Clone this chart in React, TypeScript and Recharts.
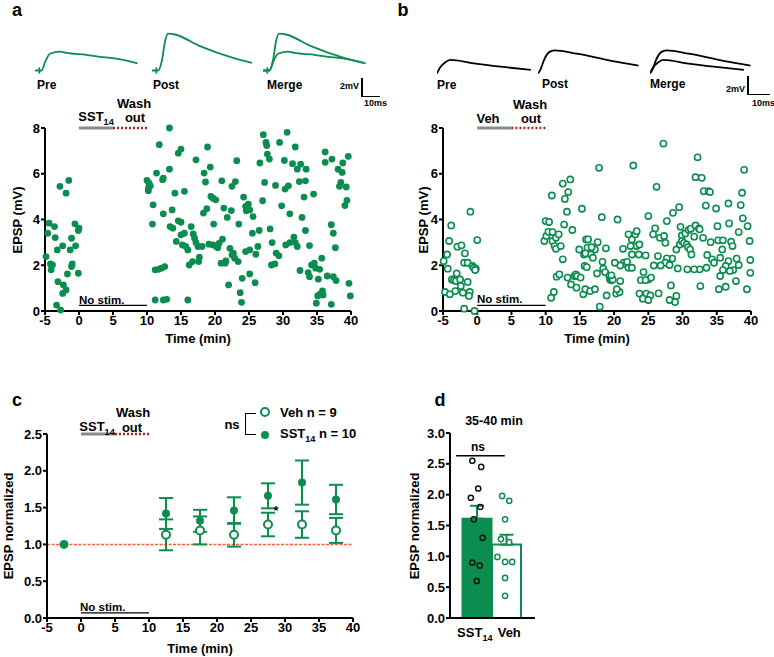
import React from "react";
import {
  ScatterChart,
  Scatter,
  ComposedChart,
  LineChart,
  Line,
  Bar,
  Cell,
  XAxis,
  YAxis,
  ErrorBar,
  ReferenceLine,
} from "recharts";

const GREEN = "#0b8d4f";
const FONT = '"Liberation Sans", Arial, Helvetica, sans-serif';

const timeTicks = [-5, 0, 5, 10, 15, 20, 25, 30, 35, 40];
const epspTicks = [0, 2, 4, 6, 8];
const normTicks = [0, 0.5, 1, 1.5, 2, 2.5];
const barTicks = [0, 0.5, 1, 1.5, 2, 2.5, 3];

// a: SST14 cell, EPSP per sweep (min, mV)
const sstSweeps: [number, number][] = [
  [-4.85, 2.38], [-4.6, 3.4], [-4.4, 3.84], [-3.6, 3.69], [-3.5, 3.21], [-3.2, 2.67], [-2.4, 2.85], [-2.8, 5.45],
  [-1.5, 5.71], [-1.9, 5.15], [-4.2, 2.06], [-3.9, 2.01], [-4.1, 1.8], [-3.1, 1.28], [-2.3, 1.14], [-2.4, 0.77],
  [-1.9, 0.92], [-3.3, 0.26], [-2.7, 0.04], [-1.7, 1.62], [-1.1, 1.94], [-1.0, 2.06], [-1.1, 3.18], [-1.3, 2.67],
  [-0.5, 2.85], [-0.6, 3.81], [-0.1, 3.52], [0, 3.62], [-0.1, 1.65],
  [10.0, 5.71], [10.3, 5.59], [10.2, 5.37], [10.5, 5.47], [10.2, 5.26], [10.9, 4.64], [10.8, 3.8], [11.2, 1.8],
  [11.7, 1.82], [12.1, 1.87], [12.6, 1.94], [11.2, 0.48], [12.4, 0.48], [12.9, 0.51], [11.4, 6.03], [11.8, 7.27],
  [12.3, 5.74], [12.4, 5.81], [13.3, 8.0], [13.3, 6.2], [12.4, 4.25], [13.7, 4.42], [13.4, 3.69], [13.8, 3.62],
  [14.1, 5.15], [14.3, 3.04], [14.6, 6.9], [15.0, 7.08], [14.6, 3.94], [15.0, 3.88], [15.5, 5.23], [15.0, 3.33],
  [15.5, 3.4], [15.2, 2.89], [15.7, 2.82], [16.2, 2.01], [16.7, 2.16], [16.0, 0.48], [16.5, 3.69], [16.0, 2.67],
  [17.2, 6.61], [18.4, 6.03], [19.3, 6.29], [18.9, 7.17], [18.6, 5.64], [19.4, 5.01], [19.7, 4.93], [20.1, 4.86],
  [18.8, 4.47], [18.3, 4.28], [19.8, 3.8], [16.8, 3.37], [17.0, 3.18], [17.2, 2.99], [17.5, 2.82], [18.1, 2.82],
  [17.7, 2.35], [17.6, 2.16], [19.1, 2.92], [19.7, 2.89], [20.2, 2.82], [20.6, 2.96], [21.1, 3.14], [20.4, 2.77],
  [20.9, 2.09], [21.5, 2.09], [21.6, 2.19], [22.0, 1.14], [22.2, 2.74], [22.5, 2.45], [22.9, 2.31], [23.4, 2.16],
  [22.7, 2.53], [21.8, 4.09], [21.3, 4.5], [22.4, 4.39], [21.0, 5.69], [22.5, 5.45], [23.0, 5.66], [23.2, 6.57],
  [23.5, 3.8], [24.0, 1.43], [23.7, 0.8], [23.9, 0.38], [24.2, 4.98], [24.5, 4.57], [24.9, 4.67], [24.6, 4.38],
  [25.1, 4.42], [25.6, 4.13], [25.1, 1.62], [25.9, 1.24], [24.5, 2.6], [25.1, 2.67], [25.5, 3.4], [26.0, 2.48],
  [26.3, 2.82], [26.5, 3.52], [26.6, 6.47], [27.0, 4.82], [27.3, 5.62], [27.1, 7.71], [27.5, 7.37], [27.6, 7.23],
  [27.7, 6.86], [28.0, 6.64], [28.1, 3.59], [28.4, 2.99], [28.3, 2.01], [28.8, 2.06], [29.0, 2.53], [29.4, 2.41],
  [28.9, 5.49], [29.5, 7.37], [29.8, 4.6], [30.2, 6.58], [30.6, 7.81], [30.3, 5.33], [30.8, 5.47], [31.0, 4.25],
  [30.4, 2.89], [31.0, 2.99], [31.4, 6.44], [31.8, 7.17], [32.1, 6.2], [32.6, 6.42], [33.4, 6.2], [32.4, 5.66],
  [33.3, 5.69], [33.1, 4.98], [31.6, 3.23], [31.8, 2.99], [32.1, 2.82], [32.8, 4.09], [33.3, 3.52], [33.9, 2.86],
  [34.5, 5.11], [32.5, 1.77], [33.7, 1.68], [33.9, 1.5], [34.2, 2.01], [34.6, 2.09], [34.8, 1.87], [35.2, 1.39],
  [35.7, 2.31], [35.4, 1.82], [36.5, 1.53], [37.4, 1.5], [37.8, 1.33], [35.1, 0.66], [35.4, 0.73], [35.8, 0.88],
  [35.9, 0.7], [34.9, 0.34], [37.1, 0.29], [36.2, 6.95], [36.2, 6.5], [37.2, 6.64], [37.1, 3.77], [37.4, 3.4],
  [37.7, 2.77], [38.1, 6.2], [38.7, 6.06], [38.8, 6.47], [39.6, 6.76], [38.5, 5.62], [38.3, 5.45], [39.3, 5.42],
  [39.4, 4.83], [39.1, 4.61], [39.7, 1.21], [39.9, 0.66],
];

// b: vehicle cell
const vehSweeps: [number, number][] = [
  [-4.9, 2.18], [-4.4, 2.47], [-4.3, 1.85], [-4.7, 0.83], [-4.0, 0.73], [-4.1, 3.06], [-3.8, 3.74], [-3.7, 1.38],
  [-3.4, 1.34], [-3.1, 1.31], [-3.0, 1.64], [-3.2, 0.87], [-2.9, 2.81], [-2.3, 2.87], [-2.5, 1.38], [-2.4, 1.09],
  [-2.1, 0.8], [-1.9, 0.1], [-1.8, 2.52], [-1.9, 2.11], [-1.4, 2.11], [-1.4, 1.27], [-1.1, 0.83], [-1.2, 0.66],
  [-1.0, 4.34], [-0.7, 1.97], [-0.5, 1.89], [-0.2, 1.85], [-0.3, 1.79], [0.0, 3.1], [-0.4, 0.0],
  [9.8, 3.06], [10.0, 3.93], [10.5, 3.89], [10.1, 3.28], [10.4, 3.46], [10.9, 5.05], [11.0, 3.45], [11.0, 3.06],
  [11.3, 2.84], [11.5, 3.2], [11.5, 2.72], [10.8, 0.58], [11.2, 0.83], [11.9, 3.35], [12.2, 2.84], [11.6, 1.5],
  [12.0, 1.6], [12.5, 2.26], [12.5, 5.57], [12.7, 3.78], [12.8, 4.9], [13.1, 4.34], [13.3, 5.2], [13.6, 5.75],
  [13.2, 1.46], [13.7, 1.16], [13.9, 3.54], [14.2, 1.53], [14.4, 1.6], [14.6, 1.53], [14.5, 1.02], [15.1, 1.46],
  [14.9, 2.69], [15.3, 4.47], [15.5, 0.73], [15.8, 0.95], [15.7, 1.97], [15.6, 2.47], [15.9, 3.13], [16.1, 2.77],
  [17.9, 0.19], [17.8, 6.26], [22.8, 6.36], [27.2, 7.32], [32.2, 6.72], [39.0, 6.17], [26.2, 5.43], [31.9, 5.85],
  [32.8, 5.82], [33.1, 5.24], [33.8, 5.24], [34.0, 5.2], [33.4, 4.61], [34.9, 4.48], [36.7, 4.7], [38.5, 4.63],
  [38.7, 5.17], [38.8, 4.05], [39.5, 3.71], [29.5, 4.54], [28.6, 4.29], [27.7, 3.93], [25.0, 4.15], [20.5, 4.0],
  [18.2, 4.1], [26.0, 3.61], [25.7, 3.35], [26.7, 3.2], [27.3, 3.28], [27.5, 2.98], [29.7, 3.68], [29.9, 3.3],
  [30.4, 3.39], [30.9, 3.54], [31.2, 3.6], [31.9, 3.74], [32.4, 3.61], [32.5, 3.57], [31.7, 3.25], [33.0, 3.2],
  [35.1, 3.71], [36.8, 3.83], [38.2, 3.45], [39.8, 3.06], [34.1, 3.01], [35.2, 3.09], [35.9, 3.09], [37.1, 3.03],
  [37.3, 2.84], [35.8, 2.69], [33.6, 2.45], [34.3, 2.26], [34.6, 2.11], [35.5, 2.33], [36.7, 2.18], [37.9, 2.29],
  [39.9, 2.23], [38.2, 2.01], [37.4, 1.79], [36.9, 1.75], [36.3, 1.97], [35.9, 1.79], [35.5, 1.53], [39.9, 1.67],
  [33.5, 1.89], [32.5, 1.82], [31.7, 1.82], [30.7, 1.82], [29.3, 1.86], [29.1, 2.69], [29.6, 2.91], [29.9, 3.06],
  [30.2, 2.98], [30.6, 2.91], [30.8, 2.79], [31.1, 2.69], [31.3, 2.47], [28.5, 2.29], [27.7, 2.3], [27.5, 2.11],
  [28.1, 2.01], [26.8, 1.99], [25.8, 1.99], [26.4, 2.4], [24.6, 2.43], [25.0, 1.38], [24.3, 1.7], [23.9, 1.35],
  [24.6, 1.35], [25.4, 1.46], [23.7, 0.76], [24.7, 0.76], [25.3, 0.68], [24.2, 0.54], [25.0, 0.48], [26.5, 0.77],
  [28.3, 1.12], [29.1, 0.66], [28.1, 0.48], [28.9, 0.39], [32.6, 1.09], [35.3, 0.95], [36.3, 1.06], [37.8, 1.31],
  [39.4, 0.95], [23.6, 2.47], [22.6, 2.47], [23.3, 2.84], [23.7, 2.91], [22.4, 2.84], [22.6, 3.13], [23.1, 3.35],
  [23.3, 3.49], [22.1, 3.35], [21.3, 2.72], [21.4, 2.11], [21.8, 2.04], [22.1, 1.89], [22.6, 1.89], [21.9, 2.15],
  [20.9, 1.99], [20.1, 2.11], [20.9, 1.31], [20.3, 0.76], [20.8, 0.83], [18.9, 0.68], [18.8, 2.74], [18.3, 2.15],
  [18.4, 1.85], [18.7, 1.7], [17.5, 1.64], [19.3, 1.53], [19.4, 1.38], [19.6, 1.34], [19.8, 1.38], [19.6, 1.56],
  [20.4, 0.95], [17.6, 3.01], [17.2, 2.69], [16.7, 2.79], [16.2, 3.13], [16.6, 2.47], [16.9, 2.33], [15.8, 2.52],
  [16.0, 1.92], [16.5, 0.87], [17.2, 0.95],
];

// example EPSP traces (ms, mV)
const aPre: [number, number][] = [
  [0, 0], [2, 0], [3.7, 0], [5.6, 0.92], [8.3, 1.86], [13.9, 2.1], [17.6, 1.95], [28.7, 1.74], [36, 1.52],
  [43.3, 1.37], [57, 0.8],
];
const aPost: [number, number][] = [
  [0, 0], [2, 0], [3.3, 0], [5.6, 1.2], [7.2, 3.2], [8.9, 4.1], [12.8, 4.0], [26.7, 2.7], [45, 1.4], [55.6, 0.86],
];
const bPre: [number, number][] = [
  [0, 0], [1.4, 0.67], [3.6, 1.22], [5.8, 1.49], [15.9, 1.11], [27.5, 0.74], [40.6, 0.38],
];
const bPost: [number, number][] = [
  [0, 0], [1, 0.38], [2.5, 1.41], [4.8, 2.33], [7.2, 2.52], [16.8, 2.16], [29.7, 1.49], [43.5, 0.86],
];
const artifact: [number, number][] = [[2.4, -0.35], [2.4, 0.35]];

// c: normalized EPSP, 5-min bins
const binTimes = [12.5, 17.5, 22.5, 27.5, 32.5, 37.5];
const sstMean = [1.42, 1.32, 1.46, 1.66, 1.84, 1.61];
const sstSem = [0.21, 0.15, 0.18, 0.17, 0.3, 0.2];
const vehMean = [1.13, 1.19, 1.13, 1.27, 1.27, 1.19];
const vehSem = [0.21, 0.19, 0.16, 0.16, 0.18, 0.17];
const baselineTime = -2.5;

// d: 35-40 min
const groups = ["SST14", "Veh"];
const groupMean = [1.61, 1.19];
const groupSem = [0.21, 0.16];
const sstCells = [2.55, 2.45, 2.1, 1.95, 1.8, 1.6, 1.3, 0.9, 0.85, 0.6];
const sstJitter = [-0.15, 0.15, 0.05, -0.2, 0.12, -0.1, 0.2, -0.15, 0.1, 0];
const vehCells = [1.98, 1.9, 1.6, 1.28, 1.23, 0.99, 0.91, 0.91, 0.65, 0.36];
const vehJitter = [-0.14, 0.1, -0.04, -0.18, 0.1, -0.3, -0.04, 0.2, -0.04, -0.04];

const tickStyle = { fill: "#000", fontSize: 13, fontWeight: 700, fontFamily: FONT };
const axisLine = { stroke: "#000", strokeWidth: 2 };

function T({ x, y, size = 13, anchor = "middle", rotate = false, children }: any) {
  const tx = anchor === "middle" ? "-50%" : anchor === "end" ? "-100%" : "0";
  return (
    <div
      style={{
        position: "absolute",
        left: x,
        top: y,
        transform: `translate(${tx}, -50%)${rotate ? " rotate(-90deg)" : ""}`,
        fontSize: size,
        fontWeight: 700,
        fontFamily: FONT,
        lineHeight: 1,
        whiteSpace: "nowrap",
        color: "#000",
      }}
    >
      {children}
    </div>
  );
}

const Sub = ({ children }: any) => (
  <span style={{ fontSize: "0.7em", position: "relative", top: 4 }}>{children}</span>
);

const filledDot = (p: any) => <circle cx={p.cx} cy={p.cy} r={3.4} fill={GREEN} />;
const openDot = (p: any) => (
  <circle cx={p.cx} cy={p.cy} r={3.1} fill="#fff" stroke={GREEN} strokeWidth={1.6} />
);

function SweepPanel({ points, left, open }: { points: [number, number][]; left: number; open?: boolean }) {
  const data = points.map(([t, v]) => ({ t, v }));
  return (
    <div style={{ position: "absolute", left, top: 110 }}>
      <ScatterChart width={370} height={240} margin={{ top: 18, right: 19, bottom: 14, left: open ? 13 : 15 }}>
        <XAxis
          dataKey="t"
          type="number"
          domain={[-5, 40]}
          ticks={timeTicks}
          height={25}
          tick={tickStyle}
          tickSize={4}
          tickMargin={1}
          axisLine={axisLine}
          tickLine={axisLine}
        />
        <YAxis
          dataKey="v"
          type="number"
          domain={[0, 8]}
          ticks={epspTicks}
          width={30}
          tick={tickStyle}
          tickSize={4}
          tickMargin={1}
          axisLine={axisLine}
          tickLine={axisLine}
        />
        <ReferenceLine segment={[{ x: 0, y: 8 }, { x: 5, y: 8 }]} stroke="#8a8a8a" strokeWidth={3} />
        <ReferenceLine
          segment={[{ x: 5, y: 8 }, { x: 10, y: 8 }]}
          stroke="#b0231c"
          strokeWidth={2.5}
          strokeDasharray="2 2"
        />
        <ReferenceLine segment={[{ x: 0, y: 0.25 }, { x: 10, y: 0.25 }]} stroke="#000" strokeWidth={1.2} />
        <Scatter data={data} dataKey="v" shape={open ? openDot : filledDot} isAnimationActive={false} />
      </ScatterChart>
    </div>
  );
}

function Trace({ left, top, width, height, xMax, yMin, yMax, series, color }: any) {
  return (
    <div style={{ position: "absolute", left, top }}>
      <LineChart width={width} height={height} margin={{ top: 0, right: 0, bottom: 0, left: 0 }}>
        <XAxis type="number" dataKey="t" domain={[0, xMax]} hide />
        <YAxis type="number" domain={[yMin, yMax]} hide />
        {series.map((s: [number, number][], i: number) => (
          <Line
            key={i}
            data={s.map(([t, v]) => ({ t, v }))}
            dataKey="v"
            type={s.length === 2 ? "linear" : "monotone"}
            stroke={color}
            strokeWidth={1.8}
            dot={false}
            isAnimationActive={false}
          />
        ))}
      </LineChart>
    </div>
  );
}

const ScaleBar = ({ x, y, h, w }: any) => (
  <>
    <div style={{ position: "absolute", left: x, top: y, width: 1.5, height: h, background: "#000" }} />
    <div style={{ position: "absolute", left: x, top: y + h - 1.5, width: w, height: 1.5, background: "#000" }} />
  </>
);

function PanelC() {
  const sst = binTimes.map((t, i) => ({ t, m: sstMean[i], e: sstSem[i] }));
  const veh = binTimes.map((t, i) => ({ t, m: vehMean[i], e: vehSem[i] }));
  const base = [{ t: baselineTime, m: 1 }];
  return (
    <div style={{ position: "absolute", left: 0, top: 400 }}>
      <ComposedChart width={380} height={250} margin={{ top: 34, right: 27, bottom: 10, left: 17 }}>
        <XAxis
          dataKey="t"
          type="number"
          domain={[-5, 40]}
          ticks={timeTicks}
          height={22}
          tick={tickStyle}
          tickSize={4}
          tickMargin={1}
          axisLine={axisLine}
          tickLine={axisLine}
        />
        <YAxis
          type="number"
          domain={[0, 2.5]}
          ticks={normTicks}
          tickFormatter={(v: number) => v.toFixed(1)}
          width={30}
          tick={tickStyle}
          tickSize={4}
          tickMargin={1}
          axisLine={axisLine}
          tickLine={axisLine}
        />
        <ReferenceLine y={1} stroke="#ff5a3c" strokeWidth={1.5} strokeDasharray="3 1.5" />
        <ReferenceLine segment={[{ x: 0, y: 2.5 }, { x: 5, y: 2.5 }]} stroke="#8a8a8a" strokeWidth={3} />
        <ReferenceLine
          segment={[{ x: 5, y: 2.5 }, { x: 10, y: 2.5 }]}
          stroke="#b0231c"
          strokeWidth={2.5}
          strokeDasharray="2 2"
        />
        <ReferenceLine segment={[{ x: 0, y: 0.07 }, { x: 10, y: 0.07 }]} stroke="#000" strokeWidth={1.2} />
        <Scatter data={veh} dataKey="m" isAnimationActive={false}
          shape={(p: any) => <circle cx={p.cx} cy={p.cy} r={4} fill="#fff" stroke={GREEN} strokeWidth={2} />}>
          <ErrorBar dataKey="e" direction="y" width={7} stroke={GREEN} strokeWidth={2} />
        </Scatter>
        <Scatter data={sst} dataKey="m" isAnimationActive={false}
          shape={(p: any) => <circle cx={p.cx} cy={p.cy} r={4} fill={GREEN} />}>
          <ErrorBar dataKey="e" direction="y" width={7} stroke={GREEN} strokeWidth={2} />
        </Scatter>
        <Scatter data={base} dataKey="m" isAnimationActive={false}
          shape={(p: any) => <circle cx={p.cx} cy={p.cy} r={4.5} fill={GREEN} />} />
      </ComposedChart>
    </div>
  );
}

const GroupTick = ({ x, y, payload }: any) => (
  <text
    x={payload.value === "SST14" ? x - 2 : x + 3}
    y={y + 11}
    textAnchor="middle"
    fontSize={13}
    fontWeight={700}
    fontFamily={FONT}
    fill="#000"
  >
    {payload.value === "SST14" ? (
      <>
        SST<tspan fontSize={9} dy={4}>14</tspan>
      </>
    ) : (
      payload.value
    )}
  </text>
);

function PanelD() {
  const data = groups.map((g, i) => ({ g, m: groupMean[i], e: [0, groupSem[i]] }));
  const sstDots = sstCells.map((v, i) => ({ x: sstJitter[i], v }));
  const vehDots = vehCells.map((v, i) => ({ x: 1 + vehJitter[i], v }));
  const pad = { left: 12, right: 14 };
  return (
    <div style={{ position: "absolute", left: 400, top: 400 }}>
      <ComposedChart width={150} height={250} data={data} margin={{ top: 33, right: 15, bottom: 12, left: 22 }}
        barCategoryGap={0.5}>
        <XAxis xAxisId="cat" dataKey="g" type="category" padding={pad} height={20} tick={<GroupTick />}
          tickLine={false} axisLine={axisLine} interval={0} />
        <XAxis xAxisId="num" dataKey="x" type="number" domain={[-0.5, 1.5]} padding={pad} hide />
        <YAxis
          type="number"
          domain={[0, 3]}
          ticks={barTicks}
          tickFormatter={(v: number) => v.toFixed(1)}
          width={28}
          tick={tickStyle}
          tickSize={4}
          tickMargin={1}
          axisLine={axisLine}
          tickLine={axisLine}
        />
        <Bar xAxisId="cat" dataKey="m" isAnimationActive={false} strokeWidth={2}>
          <Cell fill={GREEN} stroke={GREEN} />
          <Cell fill="#fff" stroke={GREEN} />
          <ErrorBar dataKey="e" direction="y" width={7} stroke={GREEN} strokeWidth={2} />
        </Bar>
        <Scatter xAxisId="num" data={sstDots} dataKey="v" isAnimationActive={false}
          shape={(p: any) => <circle cx={p.cx} cy={p.cy} r={2.6} fill="none" stroke="#111" strokeWidth={1.5} />} />
        <Scatter xAxisId="num" data={vehDots} dataKey="v" isAnimationActive={false}
          shape={(p: any) => <circle cx={p.cx} cy={p.cy} r={2.6} fill="#fff" stroke={GREEN} strokeWidth={1.5} />} />
        <ReferenceLine xAxisId="num" segment={[{ x: -0.7, y: 2.63 }, { x: 0.95, y: 2.63 }]} stroke="#000"
          strokeWidth={1.5} ifOverflow="visible" />
      </ComposedChart>
    </div>
  );
}

export default function App() {
  return (
    <div style={{ position: "absolute", left: 0, top: 0, width: 774, height: 657, background: "#fff", overflow: "hidden" }}>
      {/* panel a */}
      <T x={17} y={10} size={18}>a</T>
      <Trace left={35} top={30} width={108} height={45} xMax={60} yMin={-0.5} yMax={4.5} series={[aPre, artifact]} color={GREEN} />
      <Trace left={152} top={30} width={108} height={45} xMax={60} yMin={-0.5} yMax={4.5} series={[aPost, artifact]} color={GREEN} />
      <Trace left={263} top={30} width={108} height={45} xMax={60} yMin={-0.5} yMax={4.5} series={[aPre, aPost, artifact]} color={GREEN} />
      <T x={37} y={85} size={12} anchor="start">Pre</T>
      <T x={153} y={85} size={12} anchor="start">Post</T>
      <T x={267} y={85} size={12} anchor="start">Merge</T>
      <ScaleBar x={361} y={78} h={19} w={19} />
      <T x={359} y={86} size={9} anchor="end">2mV</T>
      <T x={364} y={103} size={9} anchor="start">10ms</T>
      <T x={134} y={103}>Wash</T>
      <T x={96} y={117}>SST<Sub>14</Sub></T>
      <T x={135} y={117}>out</T>
      <T x={79} y={301} size={11.5} anchor="start">No stim.</T>
      <T x={17} y={220} rotate>EPSP (mV)</T>
      <T x={198} y={338}>Time (min)</T>
      <SweepPanel points={sstSweeps} left={0} />

      {/* panel b */}
      <T x={403} y={10} size={18}>b</T>
      <Trace left={437} top={46} width={104} height={32} xMax={45} yMin={-0.5} yMax={3} series={[bPre]} color="#000" />
      <Trace left={538} top={46} width={104} height={32} xMax={45} yMin={-0.5} yMax={3} series={[bPost]} color="#000" />
      <Trace left={650} top={46} width={104} height={32} xMax={45} yMin={-0.5} yMax={3} series={[bPre, bPost]} color="#000" />
      <T x={437} y={85} size={12} anchor="start">Pre</T>
      <T x={542} y={84} size={12} anchor="start">Post</T>
      <T x={650} y={84} size={12} anchor="start">Merge</T>
      <ScaleBar x={747} y={76} h={19} w={23} />
      <T x={745} y={89} size={9} anchor="end">2mV</T>
      <T x={752} y={103} size={9} anchor="start">10ms</T>
      <T x={530} y={104}>Wash</T>
      <T x={488} y={118}>Veh</T>
      <T x={531} y={118}>out</T>
      <T x={477} y={300} size={11.5} anchor="start">No stim.</T>
      <T x={423} y={220} rotate>EPSP (mV)</T>
      <T x={597} y={338}>Time (min)</T>
      <SweepPanel points={vehSweeps} left={400} open />

      {/* panel c */}
      <T x={17} y={400} size={18}>c</T>
      <PanelC />
      <T x={133} y={412}>Wash</T>
      <T x={97} y={427}>SST<Sub>14</Sub></T>
      <T x={132} y={427}>out</T>
      <T x={80} y={608} size={11.5} anchor="start">No stim.</T>
      <T x={8} y={526} rotate>EPSP normalized</T>
      <T x={200} y={648}>Time (min)</T>
      <T x={276} y={511} size={12}>*</T>
      <T x={232} y={424}>ns</T>
      <div style={{ position: "absolute", left: 245, top: 413, width: 10, height: 20, borderLeft: "1.5px solid #000", borderTop: "1.5px solid #000", borderBottom: "1.5px solid #000" }} />
      <svg style={{ position: "absolute", left: 258, top: 405 }} width={16} height={38}>
        <circle cx={7} cy={7} r={4} fill="#fff" stroke={GREEN} strokeWidth={2} />
        <circle cx={7} cy={30} r={4} fill={GREEN} />
      </svg>
      <T x={280} y={412} anchor="start">Veh n = 9</T>
      <T x={280} y={434} anchor="start">SST<Sub>14</Sub> n = 10</T>

      {/* panel d */}
      <T x={440} y={400} size={18}>d</T>
      <PanelD />
      <T x={494} y={421} size={12.5}>35-40 min</T>
      <T x={478} y={447} size={12}>ns</T>
      <T x={414} y={526} rotate>EPSP normalized</T>
    </div>
  );
}
